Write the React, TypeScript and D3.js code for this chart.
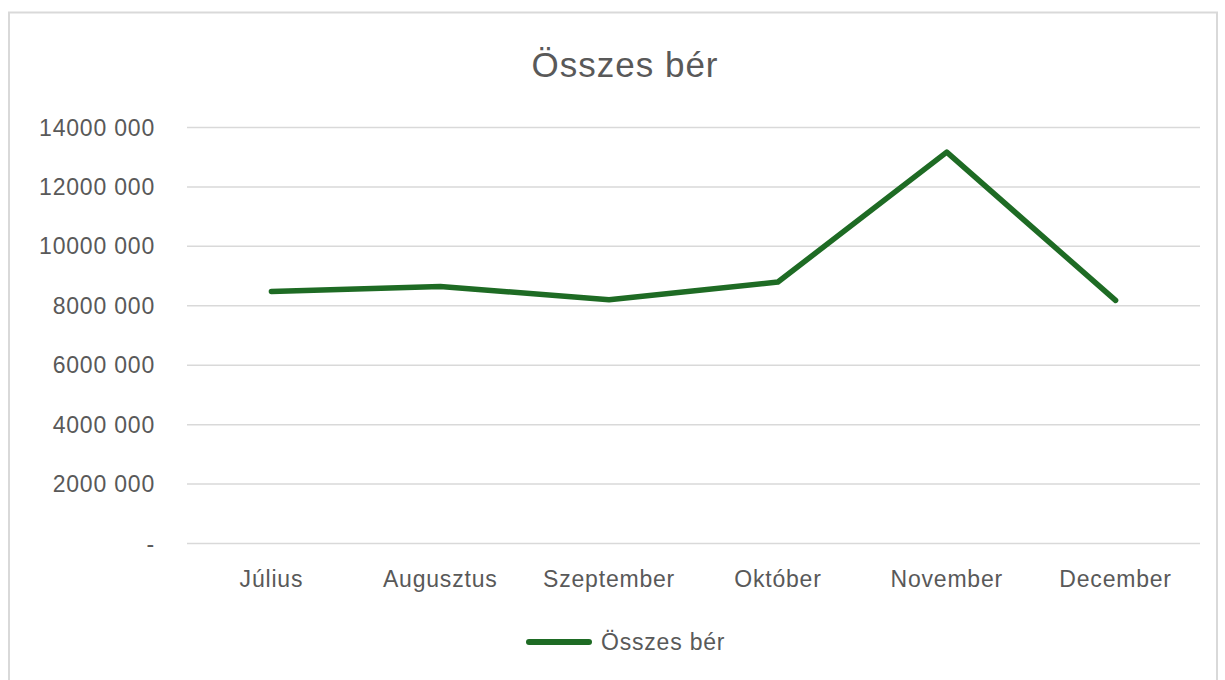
import React, { useEffect, useRef } from 'react';
import * as d3 from 'd3';

const months = ['Július', 'Augusztus', 'Szeptember', 'Október', 'November', 'December'];
const totalPay = [8480000, 8650000, 8200000, 8800000, 13170000, 8180000];
const yTicks = [0, 2000000, 4000000, 6000000, 8000000, 10000000, 12000000, 14000000];
const yTickLabels = ['-', '2000 000', '4000 000', '6000 000', '8000 000', '10000 000', '12000 000', '14000 000'];
const seriesName = 'Összes bér';
const chartTitle = 'Összes bér';

const W = 1225;
const H = 680;
const FONT = '"Liberation Sans", Arial, sans-serif';
const TEXT = '#595959';
const GREEN = '#1e6b24';

export default function App() {
  const ref = useRef<SVGSVGElement | null>(null);

  useEffect(() => {
    const svg = d3.select(ref.current);
    svg.selectAll('*').remove();

    const margin = { top: 127.5, right: 25, bottom: 136.5, left: 187 };
    const width = W - margin.left - margin.right;
    const height = H - margin.top - margin.bottom;

    // chart frame
    svg.append('rect')
      .attr('x', 9).attr('y', 12.5)
      .attr('width', W - 17).attr('height', H)
      .attr('fill', '#fff').attr('stroke', '#d9d9d9').attr('stroke-width', 2);

    svg.append('text')
      .attr('x', 625).attr('y', 77)
      .attr('text-anchor', 'middle')
      .attr('font-family', FONT).attr('font-size', 35)
      .attr('letter-spacing', 1)
      .attr('fill', TEXT)
      .text(chartTitle);

    const g = svg.append('g').attr('transform', `translate(${margin.left},${margin.top})`);

    const x = d3.scaleBand().domain(months).range([0, width]);
    const y = d3.scaleLinear().domain([0, 14000000]).range([height, 0]);

    // gridlines
    g.selectAll('.grid')
      .data(yTicks)
      .enter().append('line')
      .attr('x1', 0).attr('x2', width)
      .attr('y1', d => y(d)).attr('y2', d => y(d))
      .attr('stroke', '#d9d9d9').attr('stroke-width', 1.5);

    // y labels
    g.selectAll('.ylab')
      .data(yTicks)
      .enter().append('text')
      .attr('x', -32)
      .attr('y', d => y(d))
      .attr('dy', '0.35em')
      .attr('text-anchor', 'end')
      .attr('font-family', FONT).attr('font-size', 23)
      .attr('letter-spacing', 0.8)
      .attr('fill', TEXT)
      .text((d, i) => yTickLabels[i]);

    // x labels
    g.selectAll('.xlab')
      .data(months)
      .enter().append('text')
      .attr('x', d => (x(d) as number) + x.bandwidth() / 2)
      .attr('y', height + 43.5)
      .attr('text-anchor', 'middle')
      .attr('font-family', FONT).attr('font-size', 23)
      .attr('letter-spacing', 0.8)
      .attr('fill', TEXT)
      .text(d => d);

    const line = d3.line<number>()
      .x((d, i) => (x(months[i]) as number) + x.bandwidth() / 2)
      .y(d => y(d));

    g.append('path')
      .datum(totalPay)
      .attr('d', line)
      .attr('fill', 'none')
      .attr('stroke', GREEN)
      .attr('stroke-width', 5.5)
      .attr('stroke-linejoin', 'round')
      .attr('stroke-linecap', 'round');

    // legend
    const lg = svg.append('g').attr('transform', 'translate(527,642)');
    lg.append('line')
      .attr('x1', 2).attr('x2', 62)
      .attr('y1', 0).attr('y2', 0)
      .attr('stroke', GREEN).attr('stroke-width', 6)
      .attr('stroke-linecap', 'round');
    lg.append('text')
      .attr('x', 74).attr('y', 0).attr('dy', '0.35em')
      .attr('font-family', FONT).attr('font-size', 23)
      .attr('letter-spacing', 0.8)
      .attr('fill', TEXT)
      .text(seriesName);
  }, []);

  return (
    <svg ref={ref} width={W} height={H}
      style={{ position: 'absolute', left: 0, top: 0, background: '#fff' }} />
  );
}
